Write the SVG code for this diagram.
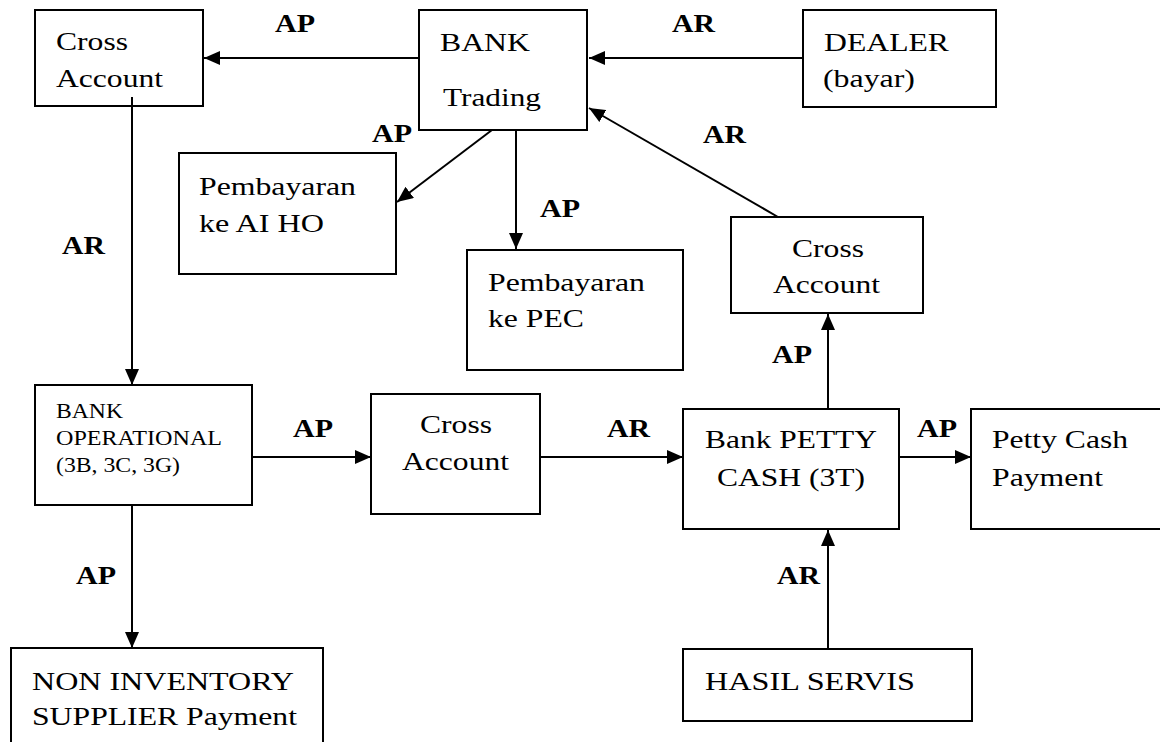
<svg xmlns="http://www.w3.org/2000/svg" width="1160" height="742" viewBox="0 0 1160 742" font-family="Liberation Serif, serif">
<style>
.box{fill:#fff;stroke:#000;stroke-width:2}
.t{font-size:25.5px;fill:#000}
.s{font-size:20.5px;fill:#000}
.lbl{font-size:24.5px;font-weight:bold;fill:#000}
.c{fill:none;stroke:#000;stroke-width:2}
</style>
<defs>
<marker id="ah" markerUnits="userSpaceOnUse" markerWidth="17" markerHeight="14" refX="16" refY="7" orient="auto" viewBox="0 0 17 14">
<path d="M0,0 L16,7 L0,14 z" fill="#000"/>
</marker>
</defs>
<rect width="1160" height="742" fill="#fff"/>

<g id="connectors">
<line class="c" x1="419" y1="58" x2="204" y2="58" marker-end="url(#ah)"/>
<line class="c" x1="803" y1="58" x2="589" y2="58" marker-end="url(#ah)"/>
<line class="c" x1="492" y1="130" x2="397" y2="202" marker-end="url(#ah)"/>
<line class="c" x1="516" y1="130" x2="516" y2="249" marker-end="url(#ah)"/>
<line class="c" x1="778" y1="217" x2="589" y2="108" marker-end="url(#ah)"/>
<line class="c" x1="132" y1="97" x2="132" y2="385" marker-end="url(#ah)"/>
<line class="c" x1="252" y1="457" x2="371" y2="457" marker-end="url(#ah)"/>
<line class="c" x1="540" y1="457" x2="683" y2="457" marker-end="url(#ah)"/>
<line class="c" x1="899" y1="457" x2="971" y2="457" marker-end="url(#ah)"/>
<line class="c" x1="828" y1="409" x2="828" y2="314" marker-end="url(#ah)"/>
<line class="c" x1="828" y1="649" x2="828" y2="530" marker-end="url(#ah)"/>
<line class="c" x1="132" y1="505" x2="132" y2="648" marker-end="url(#ah)"/>
<text class="lbl" x="275" y="32" textLength="40" lengthAdjust="spacingAndGlyphs">AP</text>
<text class="lbl" x="672" y="32" textLength="43" lengthAdjust="spacingAndGlyphs">AR</text>
<text class="lbl" x="372" y="142" textLength="40" lengthAdjust="spacingAndGlyphs">AP</text>
<text class="lbl" x="703" y="143" textLength="43" lengthAdjust="spacingAndGlyphs">AR</text>
<text class="lbl" x="540" y="217" textLength="40" lengthAdjust="spacingAndGlyphs">AP</text>
<text class="lbl" x="62" y="254" textLength="43" lengthAdjust="spacingAndGlyphs">AR</text>
<text class="lbl" x="772" y="363" textLength="40" lengthAdjust="spacingAndGlyphs">AP</text>
<text class="lbl" x="293" y="437" textLength="40" lengthAdjust="spacingAndGlyphs">AP</text>
<text class="lbl" x="607" y="437" textLength="43" lengthAdjust="spacingAndGlyphs">AR</text>
<text class="lbl" x="917" y="437" textLength="40" lengthAdjust="spacingAndGlyphs">AP</text>
<text class="lbl" x="76" y="584" textLength="40" lengthAdjust="spacingAndGlyphs">AP</text>
<text class="lbl" x="777" y="584" textLength="43" lengthAdjust="spacingAndGlyphs">AR</text>
</g>

<g id="cross-account-top">
<rect class="box" x="35" y="10" width="168" height="96"/>
<text class="t" x="56" y="50" textLength="72" lengthAdjust="spacingAndGlyphs">Cross</text>
<text class="t" x="56" y="87" textLength="107" lengthAdjust="spacingAndGlyphs">Account</text>
</g>
<line class="c" x1="132" y1="97" x2="132" y2="106"/>

<g id="bank-trading">
<rect class="box" x="419" y="10" width="168" height="120"/>
<text class="t" x="440" y="51" textLength="90" lengthAdjust="spacingAndGlyphs">BANK</text>
<text class="t" x="443" y="106" textLength="98" lengthAdjust="spacingAndGlyphs">Trading</text>
</g>

<g id="dealer">
<rect class="box" x="803" y="10" width="193" height="97"/>
<text class="t" x="824" y="51" textLength="125" lengthAdjust="spacingAndGlyphs">DEALER</text>
<text class="t" x="823" y="87" textLength="92" lengthAdjust="spacingAndGlyphs">(bayar)</text>
</g>

<g id="pembayaran-ai-ho">
<rect class="box" x="179" y="153" width="217" height="121"/>
<text class="t" x="199" y="195" textLength="157" lengthAdjust="spacingAndGlyphs">Pembayaran</text>
<text class="t" x="199" y="232" textLength="125" lengthAdjust="spacingAndGlyphs">ke AI HO</text>
</g>

<g id="pembayaran-pec">
<rect class="box" x="467" y="250" width="216" height="120"/>
<text class="t" x="488" y="291" textLength="157" lengthAdjust="spacingAndGlyphs">Pembayaran</text>
<text class="t" x="488" y="327" textLength="96" lengthAdjust="spacingAndGlyphs">ke PEC</text>
</g>

<g id="cross-account-right">
<rect class="box" x="731" y="217" width="192" height="96"/>
<text class="t" x="792" y="257" textLength="72" lengthAdjust="spacingAndGlyphs">Cross</text>
<text class="t" x="773" y="293" textLength="107" lengthAdjust="spacingAndGlyphs">Account</text>
</g>

<g id="bank-operational">
<rect class="box" x="35" y="385" width="217" height="120"/>
<text class="s" x="56" y="418" textLength="67" lengthAdjust="spacingAndGlyphs">BANK</text>
<text class="s" x="56" y="445" textLength="166" lengthAdjust="spacingAndGlyphs">OPERATIONAL</text>
<text class="s" x="56" y="472" textLength="124" lengthAdjust="spacingAndGlyphs">(3B, 3C, 3G)</text>
</g>

<g id="cross-account-mid">
<rect class="box" x="371" y="394" width="169" height="120"/>
<text class="t" x="420" y="433" textLength="72" lengthAdjust="spacingAndGlyphs">Cross</text>
<text class="t" x="402" y="470" textLength="107" lengthAdjust="spacingAndGlyphs">Account</text>
</g>

<g id="bank-petty-cash">
<rect class="box" x="683" y="409" width="216" height="120"/>
<text class="t" x="705" y="448" textLength="172" lengthAdjust="spacingAndGlyphs">Bank PETTY</text>
<text class="t" x="717" y="486" textLength="148" lengthAdjust="spacingAndGlyphs">CASH (3T)</text>
</g>

<g id="petty-cash-payment">
<rect class="box" x="971" y="409" width="200" height="120"/>
<text class="t" x="992" y="448" textLength="136" lengthAdjust="spacingAndGlyphs">Petty Cash</text>
<text class="t" x="992" y="486" textLength="111" lengthAdjust="spacingAndGlyphs">Payment</text>
</g>

<g id="non-inventory">
<rect class="box" x="11" y="648" width="312" height="110"/>
<text class="t" x="32" y="690" textLength="262" lengthAdjust="spacingAndGlyphs">NON INVENTORY</text>
<text class="t" x="32" y="725" textLength="265" lengthAdjust="spacingAndGlyphs">SUPPLIER Payment</text>
</g>

<g id="hasil-servis">
<rect class="box" x="683" y="649" width="289" height="72"/>
<text class="t" x="705" y="690" textLength="210" lengthAdjust="spacingAndGlyphs">HASIL SERVIS</text>
</g>
</svg>
